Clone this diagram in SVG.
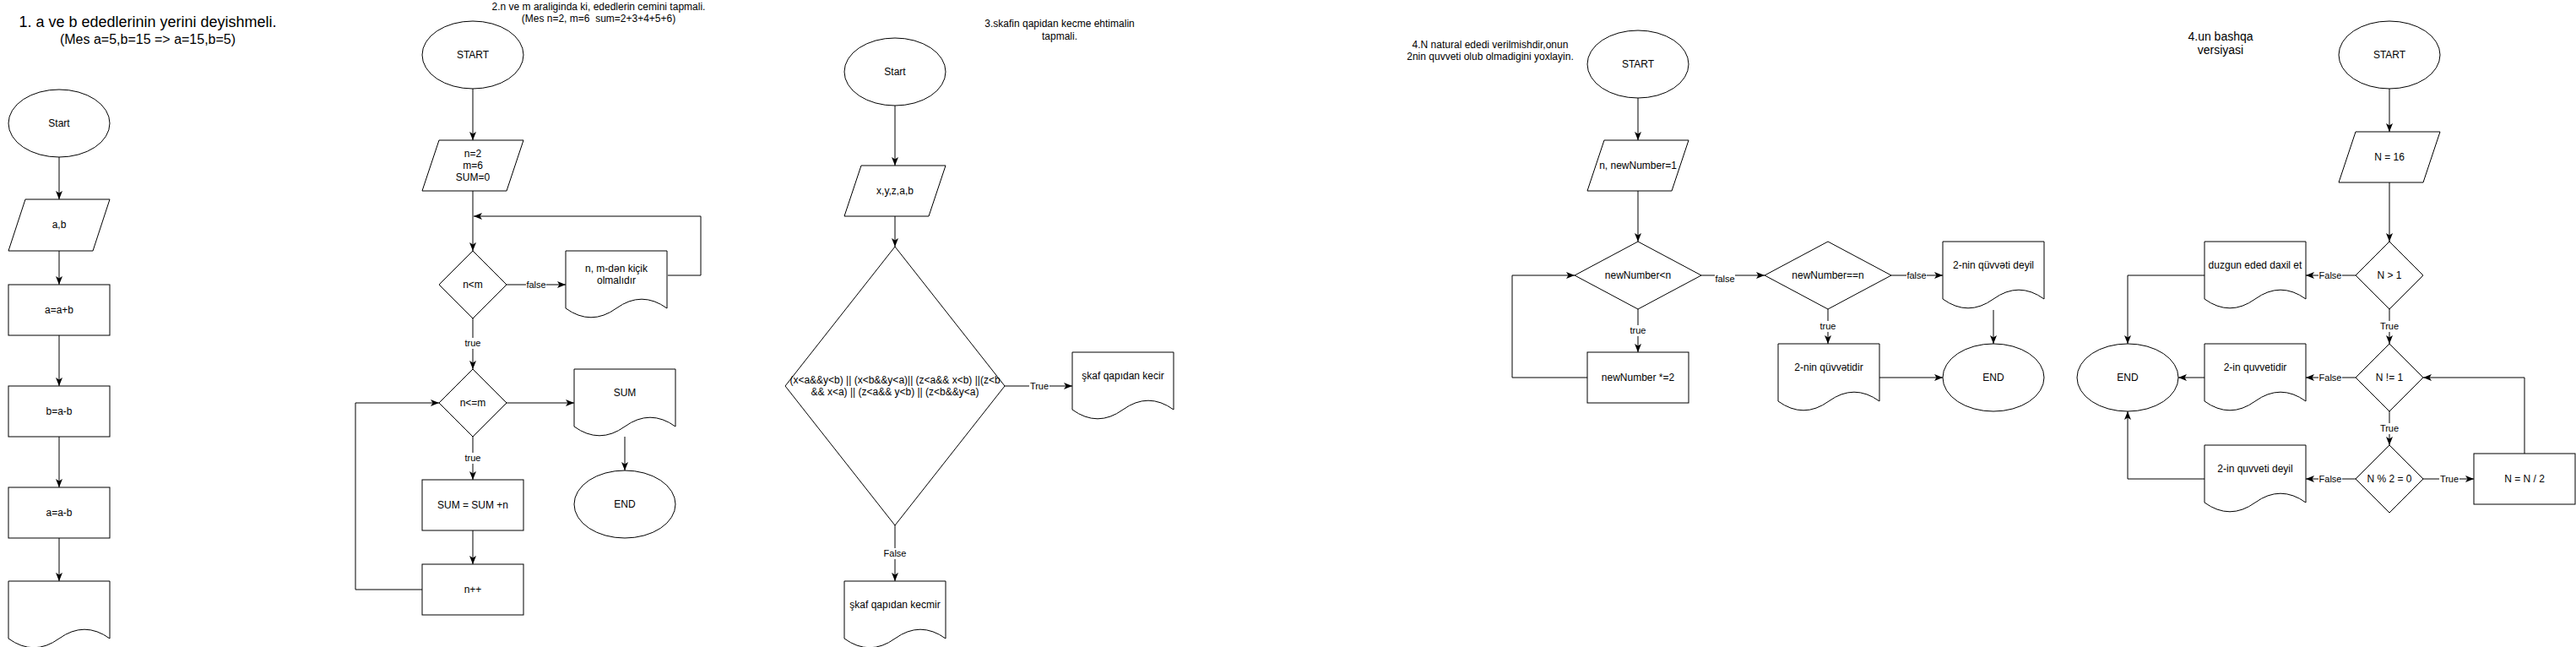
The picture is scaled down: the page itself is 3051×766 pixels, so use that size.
<svg xmlns="http://www.w3.org/2000/svg" width="3051" height="766" viewBox="0 0 3051 766">
<defs>
<style>
.s{fill:#fff;stroke:#000;stroke-width:1}
.t{font-family:"Liberation Sans",Arial,"DejaVu Sans",sans-serif;font-size:12px;fill:#000;text-anchor:middle;dominant-baseline:central}
.l{font-size:11px}
.e{fill:none;stroke:#000;stroke-width:1}
.a{marker-end:url(#ah)}
.bg{fill:#fff;stroke:none}
</style>
<marker id="ah" markerWidth="11" markerHeight="9" refX="10" refY="4" orient="auto" markerUnits="userSpaceOnUse"><path d="M0,0 L10,4 L0,8 L2.5,4 Z" fill="#000"/></marker>
</defs>
<rect width="3051" height="766" fill="#fff"/>

<g id="titles">
<text class="t" x="175" y="26" style="font-size:18px">1. a ve b ededlerinin yerini deyishmeli.</text>
<text class="t" x="175" y="46" style="font-size:16px">(Mes a=5,b=15 =&gt; a=15,b=5)</text>
<text class="t" x="709" y="8">2.n ve m araliginda ki, ededlerin cemini tapmali.</text>
<text class="t" x="709" y="22" xml:space="preserve">(Mes n=2, m=6  sum=2+3+4+5+6)</text>
<text class="t" x="1255" y="28">3.skafin qapidan kecme ehtimalin</text>
<text class="t" x="1255" y="43">tapmali.</text>
<text class="t" x="1765" y="53">4.N natural ededi verilmishdir,onun</text>
<text class="t" x="1765" y="67">2nin quvveti olub olmadigini yoxlayin.</text>
<text class="t" x="2630" y="43" style="font-size:14px">4.un bashqa</text>
<text class="t" x="2630" y="59" style="font-size:14px">versiyasi</text>
</g>

<g id="connectors">
<!-- diagram 1 -->
<path class="e a" d="M70,186 V236"/>
<path class="e a" d="M70,297 V337"/>
<path class="e a" d="M70,397 V457"/>
<path class="e a" d="M70,517 V577"/>
<path class="e a" d="M70,637 V688"/>
<!-- diagram 2 -->
<path class="e a" d="M560,105 V166"/>
<path class="e a" d="M560,226 V297"/>
<path class="e a" d="M600,337 H670"/>
<path class="e a" d="M791,326 H830 V256 H561"/>
<path class="e a" d="M560,377 V437"/>
<path class="e a" d="M600,477 H680"/>
<path class="e a" d="M740,517 V557"/>
<path class="e a" d="M560,517 V568"/>
<path class="e a" d="M560,628 V668"/>
<path class="e a" d="M500,698 H421 V477 H520"/>
<!-- diagram 3 -->
<path class="e a" d="M1060,125 V196"/>
<path class="e a" d="M1060,256 V292"/>
<path class="e a" d="M1190,457 H1270"/>
<path class="e a" d="M1060,622 V688"/>
<!-- diagram 4 -->
<path class="e a" d="M1940,116 V166"/>
<path class="e a" d="M1940,226 V286"/>
<path class="e a" d="M2015,326 H2090"/>
<path class="e a" d="M1940,366 V417"/>
<path class="e a" d="M1880,447 H1791 V326 H1865"/>
<path class="e a" d="M2240,326 H2301"/>
<path class="e a" d="M2165,366 V407"/>
<path class="e a" d="M2361,367 V407"/>
<path class="e a" d="M2226,447 H2301"/>
<!-- diagram 5 -->
<path class="e a" d="M2830,105 V156"/>
<path class="e a" d="M2830,216 V286"/>
<path class="e a" d="M2790,326 H2731"/>
<path class="e a" d="M2611,326 H2520 V407"/>
<path class="e a" d="M2830,366 V407"/>
<path class="e a" d="M2790,447 H2731"/>
<path class="e a" d="M2611,447 H2580"/>
<path class="e a" d="M2830,487 V527"/>
<path class="e a" d="M2790,567 H2731"/>
<path class="e a" d="M2611,567 H2520 V487"/>
<path class="e a" d="M2870,567 H2930"/>
<path class="e a" d="M2990,537 V447 H2870"/>
<!-- labels -->
<g id="edge-labels">
<rect class="bg" x="623" y="331" width="24" height="13"/><text class="t l" x="635" y="337">false</text>
<rect class="bg" x="550" y="400" width="20" height="13"/><text class="t l" x="560" y="406">true</text>
<rect class="bg" x="550" y="536" width="20" height="13"/><text class="t l" x="560" y="542">true</text>
<rect class="bg" x="1219" y="451" width="24" height="13"/><text class="t l" x="1231" y="457">True</text>
<rect class="bg" x="1046" y="649" width="28" height="13"/><text class="t l" x="1060" y="655">False</text>
<rect class="bg" x="2031" y="324" width="24" height="13"/><text class="t l" x="2043" y="330">false</text>
<rect class="bg" x="1930" y="385" width="20" height="13"/><text class="t l" x="1940" y="391">true</text>
<rect class="bg" x="2258" y="320" width="24" height="13"/><text class="t l" x="2270" y="326">false</text>
<rect class="bg" x="2155" y="380" width="20" height="13"/><text class="t l" x="2165" y="386">true</text>
<rect class="bg" x="2746" y="320" width="28" height="13"/><text class="t l" x="2760" y="326">False</text>
<rect class="bg" x="2746" y="441" width="28" height="13"/><text class="t l" x="2760" y="447">False</text>
<rect class="bg" x="2746" y="561" width="28" height="13"/><text class="t l" x="2760" y="567">False</text>
<rect class="bg" x="2818" y="380" width="24" height="13"/><text class="t l" x="2830" y="386">True</text>
<rect class="bg" x="2818" y="501" width="24" height="13"/><text class="t l" x="2830" y="507">True</text>
<rect class="bg" x="2889" y="561" width="24" height="13"/><text class="t l" x="2901" y="567">True</text>
</g>
</g>

<!-- diagram 1 nodes -->
<g id="d1-start"><ellipse class="s" cx="70" cy="146" rx="60" ry="40"/><text class="t" x="70" y="146">Start</text></g>
<g id="d1-input"><polygon class="s" points="30,236 130,236 110,297 10,297"/><text class="t" x="70" y="266">a,b</text></g>
<g id="d1-step1"><rect class="s" x="10" y="337" width="120" height="60"/><text class="t" x="70" y="367">a=a+b</text></g>
<g id="d1-step2"><rect class="s" x="10" y="457" width="120" height="60"/><text class="t" x="70" y="487">b=a-b</text></g>
<g id="d1-step3"><rect class="s" x="10" y="577" width="120" height="60"/><text class="t" x="70" y="607">a=a-b</text></g>
<g id="d1-output"><path class="s" d="M10,688 H130 V756 Q100,734.4 70,756 Q40,777.6 10,756 Z"/></g>

<!-- diagram 2 nodes -->
<g id="d2-start"><ellipse class="s" cx="560" cy="65" rx="60" ry="40"/><text class="t" x="560" y="65">START</text></g>
<g id="d2-input"><polygon class="s" points="520,166 620,166 600,226 500,226"/><text class="t" x="560" y="182">n=2</text><text class="t" x="560" y="196">m=6</text><text class="t" x="560" y="210">SUM=0</text></g>
<g id="d2-check1"><polygon class="s" points="560,297 600,337 560,377 520,337"/><text class="t" x="560" y="337">n&lt;m</text></g>
<g id="d2-error"><path class="s" d="M670,297 H790 V365 Q760,343.4 730,365 Q700,386.6 670,365 Z"/><text class="t" x="730" y="318">n, m-dən kiçik</text><text class="t" x="730" y="332">olmalıdır</text></g>
<g id="d2-check2"><polygon class="s" points="560,437 600,477 560,517 520,477"/><text class="t" x="560" y="477">n&lt;=m</text></g>
<g id="d2-sum-out"><path class="s" d="M680,437 H800 V505 Q770,483.4 740,505 Q710,526.6 680,505 Z"/><text class="t" x="740" y="465">SUM</text></g>
<g id="d2-end"><ellipse class="s" cx="740" cy="597" rx="60" ry="40"/><text class="t" x="740" y="597">END</text></g>
<g id="d2-add"><rect class="s" x="500" y="568" width="120" height="60"/><text class="t" x="560" y="598">SUM = SUM +n</text></g>
<g id="d2-inc"><rect class="s" x="500" y="668" width="120" height="60"/><text class="t" x="560" y="698">n++</text></g>

<!-- diagram 3 nodes -->
<g id="d3-start"><ellipse class="s" cx="1060" cy="85" rx="60" ry="40"/><text class="t" x="1060" y="85">Start</text></g>
<g id="d3-input"><polygon class="s" points="1020,196 1120,196 1100,256 1000,256"/><text class="t" x="1060" y="226">x,y,z,a,b</text></g>
<g id="d3-check"><polygon class="s" points="1060,292 1190,457 1060,622 930,457"/><text class="t" x="1060" y="450">(x&lt;a&amp;&amp;y&lt;b) || (x&lt;b&amp;&amp;y&lt;a)|| (z&lt;a&amp;&amp; x&lt;b) ||(z&lt;b</text><text class="t" x="1060" y="464">&amp;&amp; x&lt;a) || (z&lt;a&amp;&amp; y&lt;b) || (z&lt;b&amp;&amp;y&lt;a)</text></g>
<g id="d3-yes"><path class="s" d="M1270,417 H1390 V485 Q1360,463.4 1330,485 Q1300,506.6 1270,485 Z"/><text class="t" x="1330" y="445">şkaf qapıdan kecir</text></g>
<g id="d3-no"><path class="s" d="M1000,688 H1120 V756 Q1090,734.4 1060,756 Q1030,777.6 1000,756 Z"/><text class="t" x="1060" y="716">şkaf qapıdan kecmir</text></g>

<!-- diagram 4 nodes -->
<g id="d4-start"><ellipse class="s" cx="1940" cy="76" rx="60" ry="40"/><text class="t" x="1940" y="76">START</text></g>
<g id="d4-input"><polygon class="s" points="1900,166 2000,166 1980,226 1880,226"/><text class="t" x="1940" y="196">n, newNumber=1</text></g>
<g id="d4-check1"><polygon class="s" points="1940,286 2015,326 1940,366 1865,326"/><text class="t" x="1940" y="326">newNumber&lt;n</text></g>
<g id="d4-double"><rect class="s" x="1880" y="417" width="120" height="60"/><text class="t" x="1940" y="447">newNumber *=2</text></g>
<g id="d4-check2"><polygon class="s" points="2165,286 2240,326 2165,366 2090,326"/><text class="t" x="2165" y="326">newNumber==n</text></g>
<g id="d4-not"><path class="s" d="M2301,286 H2421 V354 Q2391,332.4 2361,354 Q2331,375.6 2301,354 Z"/><text class="t" x="2361" y="314">2-nin qüvvəti deyil</text></g>
<g id="d4-yes"><path class="s" d="M2106,407 H2226 V475 Q2196,453.4 2166,475 Q2136,496.6 2106,475 Z"/><text class="t" x="2166" y="435">2-nin qüvvətidir</text></g>
<g id="d4-end"><ellipse class="s" cx="2361" cy="447" rx="60" ry="40"/><text class="t" x="2361" y="447">END</text></g>

<!-- diagram 5 nodes -->
<g id="d5-start"><ellipse class="s" cx="2830" cy="65" rx="60" ry="40"/><text class="t" x="2830" y="65">START</text></g>
<g id="d5-input"><polygon class="s" points="2790,156 2890,156 2870,216 2770,216"/><text class="t" x="2830" y="186">N = 16</text></g>
<g id="d5-check1"><polygon class="s" points="2830,286 2870,326 2830,366 2790,326"/><text class="t" x="2830" y="326">N &gt; 1</text></g>
<g id="d5-check2"><polygon class="s" points="2830,407 2870,447 2830,487 2790,447"/><text class="t" x="2830" y="447">N != 1</text></g>
<g id="d5-check3"><polygon class="s" points="2830,527 2870,567 2830,607 2790,567"/><text class="t" x="2830" y="567">N % 2 = 0</text></g>
<g id="d5-halve"><rect class="s" x="2930" y="537" width="120" height="60"/><text class="t" x="2990" y="567">N = N / 2</text></g>
<g id="d5-invalid"><path class="s" d="M2611,286 H2731 V354 Q2701,332.4 2671,354 Q2641,375.6 2611,354 Z"/><text class="t" x="2671" y="314">duzgun eded daxil et</text></g>
<g id="d5-yes"><path class="s" d="M2611,407 H2731 V475 Q2701,453.4 2671,475 Q2641,496.6 2611,475 Z"/><text class="t" x="2671" y="435">2-in quvvetidir</text></g>
<g id="d5-no"><path class="s" d="M2611,527 H2731 V595 Q2701,573.4 2671,595 Q2641,616.6 2611,595 Z"/><text class="t" x="2671" y="555">2-in quvveti deyil</text></g>
<g id="d5-end"><ellipse class="s" cx="2520" cy="447" rx="60" ry="40"/><text class="t" x="2520" y="447">END</text></g>
</svg>
